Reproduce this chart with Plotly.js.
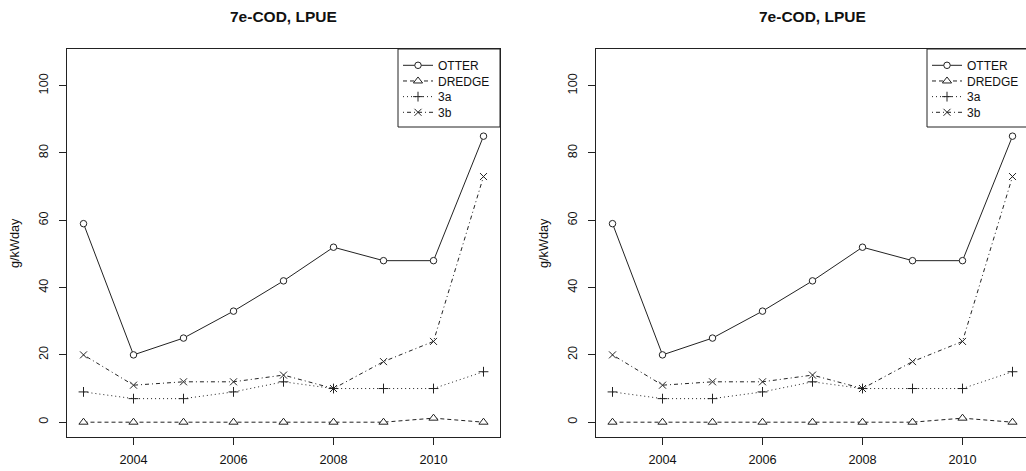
<!DOCTYPE html>
<html>
<head>
<meta charset="utf-8">
<script src="https://cdn.plot.ly/plotly-3.0.1.min.js"></script>
<style>
html,body{margin:0;padding:0;background:#fff;overflow:hidden;}
#chart{width:1040px;height:471px;}
</style>
</head>
<body>
<div id="chart"></div>
<script>
// ---- data ----
const years = [2003, 2004, 2005, 2006, 2007, 2008, 2009, 2010, 2011];
const otter = [59, 20, 25, 33, 42, 52, 48, 48, 85];
const dredge = [0, 0, 0, 0, 0, 0, 0, 1.2, 0];
const s3a = [9, 7, 7, 9, 12, 10, 10, 10, 15];
const s3b = [20, 11, 12, 12, 14, 10, 18, 24, 73];
const seriesNames = ['OTTER', 'DREDGE', '3a', '3b'];
const xTicks = [2004, 2006, 2008, 2010];
const yTicks = [0, 20, 40, 60, 80, 100];
const titleText = '7e-COD, LPUE';
const yLabel = 'g/kWday';

// ---- styling ----
const W = 1040, H = 471;
const FONT = 'Liberation Sans, Arial, sans-serif';
const INK = '#222';
const seriesValues = [otter, dredge, s3a, s3b];
const styles = [
  {dash: 'solid', symbol: 'circle', size: 6.5, fill: '#fff'},
  {dash: '4px,3px', symbol: 'triangle-up', size: 8, fill: '#fff'},
  {dash: '1px,3px', symbol: 'cross-thin-open', size: 7, fill: INK},
  {dash: '1px,3px,4px,3px', symbol: 'x-thin-open', size: 7, fill: INK}
];

const panels = [
  {xa: 'x', ya: 'y', left: 67, right: 500},
  {xa: 'x2', ya: 'y2', left: 596, right: 1029}
];
const boxTop = 49, boxBottom = 437;
const legW = 102, legH = 78, rowStep = 15.67, rowOffset = 1.8;

const traces = [];
const legends = {};
let legIdx = 0;
panels.forEach(p => {
  seriesNames.forEach((name, i) => {
    legIdx++;
    const legKey = legIdx === 1 ? 'legend' : 'legend' + legIdx;
    const st = styles[i];
    traces.push({
      type: 'scatter', mode: 'lines+markers',
      x: years, y: seriesValues[i], name: name,
      xaxis: p.xa, yaxis: p.ya, legend: legKey,
      line: {color: INK, width: 1, dash: st.dash},
      marker: {symbol: st.symbol, size: st.size, color: st.fill,
               line: {color: INK, width: 1}},
      hoverinfo: 'x+y+name'
    });
    legends[legKey] = {
      x: (p.right - legW) / W, xanchor: 'left',
      y: (H - (boxTop + rowOffset + i * rowStep)) / H, yanchor: 'top',
      bgcolor: 'rgba(0,0,0,0)', borderwidth: 0,
      font: {family: FONT, size: 12, color: '#111'},
      itemwidth: 30
    };
  });
});

function xAxis(p) {
  return {
    domain: [p.left / W, p.right / W], anchor: p.ya,
    range: [2002.67, 2011.33], tickmode: 'array', tickvals: xTicks,
    ticktext: xTicks.map(String),
    ticks: 'outside', ticklen: 7, tickwidth: 1, tickcolor: INK,
    showline: true, mirror: true, linecolor: INK, linewidth: 1,
    showgrid: false, zeroline: false,
    tickfont: {family: FONT, size: 12.7, color: '#111'},
    ticklabelstandoff: 4
  };
}
function yAxis(p) {
  return {
    domain: [(H - boxBottom) / H, (H - boxTop) / H], anchor: p.xa,
    range: [-4.4, 110.9], tickmode: 'array', tickvals: yTicks,
    ticktext: yTicks.map(String), tickangle: -90,
    ticks: 'outside', ticklen: 7, tickwidth: 1, tickcolor: INK,
    showline: true, mirror: true, linecolor: INK, linewidth: 1,
    showgrid: false, zeroline: false,
    tickfont: {family: FONT, size: 12.7, color: '#111'},
    ticklabelstandoff: 6
  };
}

const annotations = [];
const shapes = [];
panels.forEach(p => {
  annotations.push({
    xref: 'paper', yref: 'paper', x: (p.left + p.right) / 2 / W, y: (H - 17) / H,
    xanchor: 'center', yanchor: 'middle', showarrow: false, text: '<b>' + titleText + '</b>',
    font: {family: FONT, size: 15.5, color: '#111'}
  });
  annotations.push({
    xref: 'paper', yref: 'paper', x: (p.left - 52) / W, y: (H - (boxTop + boxBottom) / 2) / H,
    xanchor: 'center', yanchor: 'middle', showarrow: false, text: yLabel, textangle: -90,
    font: {family: FONT, size: 12.7, color: '#111'}
  });
  // legend frame
  shapes.push({
    type: 'rect', xref: 'paper', yref: 'paper', layer: 'above',
    x0: (p.right - legW) / W, x1: p.right / W,
    y0: (H - boxTop - legH) / H, y1: (H - boxTop) / H,
    line: {color: INK, width: 1}, fillcolor: 'rgba(0,0,0,0)'
  });
});

const layout = Object.assign({
  width: W, height: H,
  margin: {l: 0, r: 0, t: 0, b: 0, pad: 0},
  paper_bgcolor: '#fff', plot_bgcolor: '#fff',
  showlegend: true,
  xaxis: xAxis(panels[0]), yaxis: yAxis(panels[0]),
  xaxis2: xAxis(panels[1]), yaxis2: yAxis(panels[1]),
  annotations: annotations, shapes: shapes
}, legends);

Plotly.newPlot('chart', traces, layout, {displayModeBar: false, staticPlot: true});
</script>
</body>
</html>
